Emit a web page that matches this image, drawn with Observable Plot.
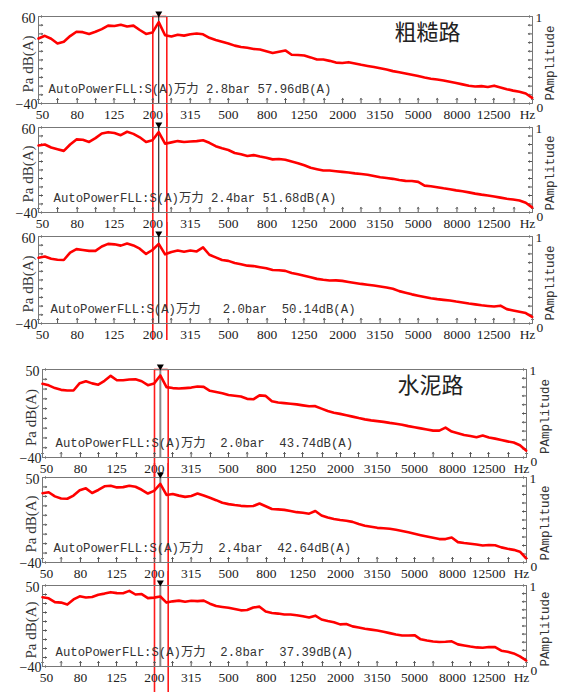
<!DOCTYPE html>
<html><head><meta charset="utf-8">
<script src="https://cdn.jsdelivr.net/npm/d3@7"></script>
<script src="https://cdn.jsdelivr.net/npm/@observablehq/plot@0.6"></script>
<style>
html,body{margin:0;padding:0;background:#fff;}
#wrap{position:relative;width:570px;height:696px;overflow:hidden;background:#fff;}
#wrap svg{position:absolute;left:0;}
</style></head><body><div id="wrap"></div>
<script>
// frequency sampling grid (1/3 of a third-octave band per step), 50 Hz .. ~20 kHz
const freqs = d3.range(79).map(k => 50 * Math.pow(10, k / 30));
const bandFreqs = [50,63,80,100,125,160,200,250,315,400,500,630,800,1000,1250,1600,2000,2500,3150,4000,5000,6300,8000,10000,12500,16000,20000];
const xTickValues = [50,80,125,200,315,500,800,1250,2000,3150,5000,8000,12500,20000];
const xTickLabels = ["50","80","125","200","315","500","800","1250","2000","3150","5000","8000","12500","Hz"];
const ampTicks = [0,0.1,0.2,0.3,0.4,0.5,0.6,0.7,0.8,0.9,1];
const cursorHz = 215;
const boxHz = [200, 237];

// 粗糙路 (rough road)
const rough28 = [34.7,37.8,34.4,29,31,37.5,42.5,42,40,42.5,45.5,49.5,49,50.5,48.5,49.5,44.5,40,41.5,53.5,38.5,37,39,38,39.5,40.5,39.5,35.5,33,31,29,26.5,25,24,22.7,22,20,18,19.5,21,16,15.8,15.2,13,10.5,10.5,9,7,6.5,7.5,6,4.5,3.2,2,0.6,-1,-2.8,-4,-5.5,-7,-8.5,-10.2,-11.5,-12.5,-13.5,-15,-16.5,-18,-19.5,-20.5,-20,-21,-19.5,-21.5,-23.5,-25.2,-26.5,-28.5,-33.5];
const rough24 = [38.8,40,36.5,34.5,32.5,40,46,45.5,43,47.5,53,54.5,53.5,51,55,52.5,48.5,43,45,54.5,41,42.5,44,43,43.5,44,45,42,38,35.5,33.5,30,28.5,26.5,27.5,25.8,24.5,22.5,23,22,20,18,15.5,12.6,11,9.4,9.5,8.6,7.8,7,6,5.2,4.5,3,1.5,0.5,-0.4,-1.8,-2.8,-3,-4,-8.4,-9.2,-10.2,-11.5,-12.6,-14,-15,-16.3,-17.8,-19,-20,-21.2,-22.5,-23.9,-24.8,-25.8,-28.5,-34];
const rough20 = [35.5,37,34.4,33.2,33,41.5,45.5,44.5,43.5,43.5,48.5,51.5,51,49.5,52,49.7,46,40,44.5,51.5,39.5,42.2,43.8,42.5,43.9,42.8,47.5,39,36,33,32,29.5,28.2,26.5,26,24.7,23.5,21.5,21.2,20.5,18,16.5,15,13.2,11.3,10.2,9.4,9.6,9,7.8,6.6,5.5,4.6,3.6,2.5,1.4,0,-2.8,-4.6,-6.5,-8,-9.5,-11,-12,-12.8,-13.6,-14.8,-15.8,-17,-18,-19,-19.8,-20.5,-19.5,-23.5,-25,-26.5,-28,-32.5];
// 水泥路 (cement road)
const cement20 = [35.4,33.8,31,29.2,28.5,28.5,36,38,35.8,34.5,38.4,43.5,39,39,39.8,40,38,34,35.6,43.9,32,31,30.6,31,31.5,32.6,32.2,28.2,27,25.8,24,23.2,22.3,20,19.5,23.5,23,17.5,16.2,15.6,15,14.3,13.3,12.4,12.5,10,7.5,5.7,4.6,3.3,1.8,0.3,-1,-2,-2.8,-3.6,-4.6,-5.4,-6.5,-7.9,-9,-10.2,-11.4,-12.5,-12.5,-9.5,-13.5,-15.2,-17,-18,-19.2,-17.6,-19.6,-20.7,-22,-23.5,-24.7,-27.5,-32.9];
const cement24 = [33.4,34.4,30,27.8,27.5,30.9,36.5,38.5,33.6,36.8,40.7,41.2,39.5,39.8,41.3,40.2,37,33,35.8,43.3,31.5,32.5,30.8,29.5,30.5,33,30.9,28.5,26,23.3,21.8,20.8,20,19.6,19.8,22.5,19.5,16.6,16.2,15.7,14.6,13.3,12.6,11.7,14.5,9.8,7.6,6,5,4.2,3,0.8,-1,-2.2,-3.3,-3.8,-4.3,-5.4,-6.6,-8,-9.6,-11.1,-12.5,-13.8,-15.2,-15.2,-13.6,-18.4,-19.4,-20.2,-21,-22,-21.5,-21.8,-24,-25.5,-26.6,-28.5,-35.5];
const cement28 = [37,35.8,31.5,31,28.8,34.5,38,36.7,37.3,39.8,41,42.6,41.5,41.4,44,40,40.5,36,36.5,37.8,31,32.4,33.2,32,33,32.6,33.2,29.8,27.2,26.2,25.3,23.8,22.4,22.7,25.5,26.5,21,19.4,18.8,17.8,17.8,17,15.8,14.4,16.5,12.2,10.5,9.2,6.8,7.3,4.6,3.4,2,1,0,-1.4,-2.9,-4.4,-5.5,-5.6,-5.2,-9.8,-11.2,-12.2,-12.8,-12.5,-12,-15.4,-16.6,-17.8,-18.8,-19.2,-18.3,-18.5,-22.4,-23.6,-25.5,-28.8,-33.3];

const labels = [
  "AutoPowerFLL:S(A)万力 2.8bar 57.96dB(A)",
  "AutoPowerFLL:S(A)万力 2.4bar 51.68dB(A)",
  "AutoPowerFLL:S(A)万力   2.0bar  50.14dB(A)",
  "AutoPowerFLL:S(A)万力  2.0bar  43.74dB(A)",
  "AutoPowerFLL:S(A)万力  2.4bar  42.64dB(A)",
  "AutoPowerFLL:S(A)万力  2.8bar  37.39dB(A)"
];
const yLow = -40, yHighRough = 60, yHighCement = 50;

// layout (pixels)
const panels = [
  {db: rough28, label: labels[0], top: 16, bottom: 103, left: 38, right: 532, hi: yHighRough, labelDx: 10, title: "粗糙路", titleDx: -105, ext: 24, first: true, cursor: "#000", cursorW: 1, ttlDx: -10, ampDx: 17},
  {db: rough24, label: labels[1], top: 127, bottom: 212, left: 38, right: 532, hi: yHighRough, labelDx: 15, ext: 24, cursor: "#000", cursorW: 1, ttlDx: -10, ampDx: 17},
  {db: rough20, label: labels[2], top: 236, bottom: 323, left: 38, right: 532, hi: yHighRough, labelDx: 12, ext: 17, cursor: "#000", cursorW: 1, ttlDx: -10, ampDx: 17},
  {db: cement20, label: labels[3], top: 369, bottom: 457, left: 42, right: 526, hi: yHighCement, labelDx: 13, title: "水泥路", titleDx: -96, ext: 20, first: true, cursor: "#8a8a8a", cursorW: 2, ttlDx: -11, ampDx: 18},
  {db: cement24, label: labels[4], top: 477, bottom: 562, left: 42, right: 526, hi: yHighCement, labelDx: 11, ext: 23, cursor: "#8a8a8a", cursorW: 2, ttlDx: -11, ampDx: 18},
  {db: cement28, label: labels[5], top: 585, bottom: 666, left: 42, right: 526, hi: yHighCement, labelDx: 13, ext: 26, cursor: "#8a8a8a", cursorW: 2, ttlDx: -11, ampDx: 18}
];

const wrap = document.getElementById("wrap");
const serif = "'Liberation Serif','DejaVu Serif',serif";
const mono = "'Liberation Mono','Noto Sans CJK SC',monospace";
const cjk = "'Noto Sans CJK SC',sans-serif";

for (const p of panels) {
  const lo = yLow, hi = p.hi;
  const mt = 14, mb = 30;
  const height = mt + (p.bottom - p.top) + mb;
  const yA = a => lo + a * (hi - lo);
  const series = p.db.map((v, i) => ({f: freqs[i], v}));
  const dbTicks = d3.range(lo, hi + 0.1, 10);
  const marks = [
    // red selection band
    Plot.ruleX(boxHz, {x: d => d, stroke: "#ff1a1a", strokeWidth: 1.6, insetTop: p.first ? 0 : -mt, insetBottom: -p.ext}),
    p.first ? Plot.ruleY([{y: hi, a: boxHz[0], b: boxHz[1]}], {y: "y", x1: "a", x2: "b", stroke: "#ff1a1a", strokeWidth: 1.6}) : null,
    // ticks inside the frame
    Plot.vector(bandFreqs, {x: d => d, y: () => lo, length: 5, rotate: 0, anchor: "start", stroke: "#555", strokeWidth: 1}),
    Plot.vector(dbTicks, {x: () => 50, y: d => d, length: 4, rotate: 90, anchor: "start", stroke: "#555", strokeWidth: 1}),
    Plot.vector(ampTicks, {x: () => 20000, y: a => yA(a), length: 4, rotate: -90, anchor: "start", stroke: "#555", strokeWidth: 1}),
    Plot.frame({stroke: "#777", strokeWidth: 1}),
    // cursor
    Plot.ruleX([cursorHz], {x: d => d, stroke: p.cursor, strokeWidth: p.cursorW}),
    Plot.dot([cursorHz], {x: d => d, frameAnchor: "top", symbol: "triangle", r: 2.6, rotate: 180, dy: -3, fill: "#000", stroke: "none"}),
    // spectrum
    Plot.line(series, {x: "f", y: "v", stroke: "#ff0000", strokeWidth: 2.6, strokeLinejoin: "round"}),
    // annotation
    Plot.text([p.label], {frameAnchor: "bottom-left", text: d => d, dx: p.labelDx, dy: -14, textAnchor: "start", lineAnchor: "middle", fontFamily: mono, fontSize: 12.3, fill: "#333"}),
    p.title ? Plot.text([p.title], {frameAnchor: "top-right", text: d => d, dx: p.titleDx, dy: 16, textAnchor: "middle", lineAnchor: "middle", fontFamily: cjk, fontSize: 22, fill: "#222"}) : null,
    // x tick labels
    Plot.text(xTickValues.slice(1, -1), {x: d => d, y: () => lo, dy: 11, text: (d, i) => xTickLabels[i + 1], lineAnchor: "middle", fontFamily: serif, fontSize: 13.5, fill: "#222"}),
    Plot.text([xTickValues[0]], {x: d => d, y: () => lo, dy: 11, dx: 4, text: () => xTickLabels[0], lineAnchor: "middle", fontFamily: serif, fontSize: 13.5, fill: "#222"}),
    Plot.text([xTickValues[xTickValues.length - 1]], {x: d => d, y: () => lo, dy: 11, dx: -5, text: () => xTickLabels[xTickLabels.length - 1], lineAnchor: "middle", fontFamily: serif, fontSize: 13.5, fill: "#222"}),
    // y labels
    Plot.text([hi], {x: () => 50, y: d => d, text: d => String(d), dx: -3, dy: 2, textAnchor: "end", lineAnchor: "middle", fontFamily: serif, fontSize: 14, fill: "#222"}),
    Plot.text([lo], {x: () => 50, y: d => d, text: d => "−" + Math.abs(d), dx: -1, dy: 1, textAnchor: "end", lineAnchor: "middle", fontFamily: serif, fontSize: 14, fill: "#222"}),
    Plot.text([1], {x: () => 20000, y: a => yA(a), text: d => String(d), dx: 3, dy: 1, textAnchor: "start", lineAnchor: "middle", fontFamily: serif, fontSize: 13.5, fill: "#222"}),
    Plot.text([0], {x: () => 20000, y: a => yA(a), text: d => String(d), dx: 4, dy: 4, textAnchor: "start", lineAnchor: "middle", fontFamily: serif, fontSize: 13.5, fill: "#222"}),
    // axis titles
    Plot.text(["Pa dB(A)"], {frameAnchor: "left", text: d => d, dx: p.ttlDx, dy: 4, rotate: -90, textAnchor: "middle", lineAnchor: "middle", fontFamily: serif, fontSize: 15, fill: "#333"}),
    Plot.text(["PAmplitude"], {frameAnchor: "right", text: d => d, dx: p.ampDx, dy: 3, rotate: -90, textAnchor: "middle", lineAnchor: "middle", fontFamily: mono, fontSize: 12.5, fill: "#333"})
  ].filter(Boolean);
  const svg = Plot.plot({
    width: 570, height,
    marginTop: mt, marginBottom: mb, marginLeft: p.left, marginRight: 570 - p.right,
    x: {type: "log", domain: [50, 20000], axis: null},
    y: {domain: [lo, hi], axis: null},
    style: {background: "transparent", overflow: "visible"},
    marks
  });
  svg.style.top = (p.top - mt) + "px";
  wrap.appendChild(svg);
}
</script></body></html>
